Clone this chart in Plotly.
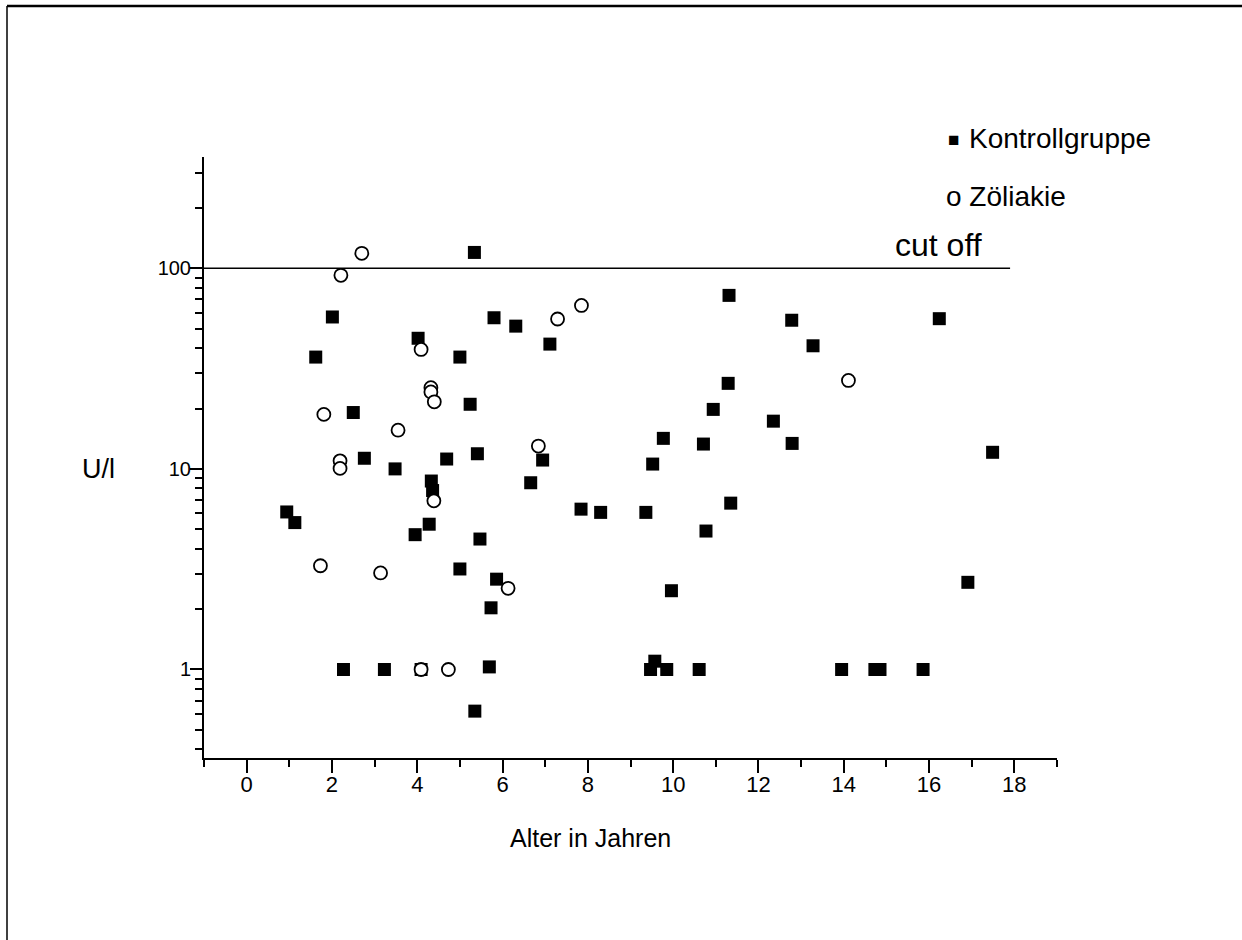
import plotly.graph_objects as go

# Kontrollgruppe (filled squares): age in years, value in U/l
kontroll_alter = [0.94, 1.13, 1.62, 2.01, 2.27, 2.50, 2.76, 3.23, 3.48, 3.95,
                  4.02, 4.09, 4.28, 4.33, 4.36, 4.69, 5.00, 5.00, 5.24, 5.34,
                  5.35, 5.41, 5.47, 5.69, 5.73, 5.80, 5.86, 6.31, 6.66, 6.94,
                  7.11, 7.84, 8.30, 9.36, 9.47, 9.52, 9.57, 9.77, 9.85, 9.96,
                  10.61, 10.71, 10.77, 10.94, 11.29, 11.31, 11.35, 12.35, 12.78, 12.79,
                  13.28, 13.95, 14.73, 14.85, 15.86, 16.24, 16.91, 17.49]
kontroll_wert = [6.1, 5.4, 36.1, 57.2, 1.0, 19.1, 11.3, 1.0, 10.0, 4.7,
                 44.8, 1.0, 5.3, 8.7, 7.8, 11.2, 36.1, 3.17, 21.0, 120.0,
                 0.62, 11.9, 4.47, 1.03, 2.03, 56.7, 2.82, 51.5, 8.53, 11.07,
                 41.9, 6.30, 6.07, 6.07, 1.0, 10.57, 1.1, 14.2, 1.0, 2.47,
                 1.0, 13.3, 4.9, 19.8, 26.7, 73.3, 6.75, 17.3, 55.1, 13.4,
                 41.1, 1.0, 1.0, 1.0, 1.0, 56.1, 2.72, 12.1]

# Zöliakie (open circles)
zoeliakie_alter = [1.73, 1.81, 2.19, 2.19, 2.21, 2.70, 3.14, 3.55, 4.09, 4.09,
                   4.32, 4.32, 4.39, 4.40, 4.73, 6.13, 6.84, 7.29, 7.85, 14.11]
zoeliakie_wert = [3.29, 18.7, 10.97, 10.06, 92.3, 118.8, 3.03, 15.6, 39.4, 1.0,
                  25.4, 24.2, 6.93, 21.6, 1.0, 2.54, 13.0, 55.9, 65.3, 27.6]

cut_off = 100
y_ticks = [1, 10, 100]
y_minor = [0.4, 0.5, 0.6, 0.7, 0.8, 0.9, 2, 3, 4, 5, 6, 7, 8, 9,
           20, 30, 40, 50, 60, 70, 80, 90, 200, 300]
x_ticks = list(range(0, 19, 2))
x_minor = list(range(-1, 20, 2))

FONT = "Liberation Sans, Arial, sans-serif"
W, H = 1242, 940
L, R, T, B = 204, 1057, 157, 758


def px(xp):
    return (xp - L) / (R - L)


def py(yp):
    return (B - yp) / (B - T)


fig = go.Figure()
fig.add_trace(go.Scatter(
    x=kontroll_alter, y=kontroll_wert, mode="markers", name="Kontrollgruppe",
    marker=dict(symbol="square", size=13, color="black", line=dict(width=0)),
))
fig.add_trace(go.Scatter(
    x=zoeliakie_alter, y=zoeliakie_wert, mode="markers", name="Zöliakie",
    marker=dict(symbol="circle", size=13, color="white",
                line=dict(width=1.8, color="black")),
))

# cut-off line
fig.add_shape(type="line", xref="x", yref="y", x0=-1, x1=17.9,
              y0=cut_off, y1=cut_off, line=dict(color="black", width=1.5))

# page frame (top and left edges)
fig.add_shape(type="line", xref="paper", yref="paper", x0=px(7), x1=px(1242),
              y0=py(6), y1=py(6), line=dict(color="black", width=2.5))
fig.add_shape(type="line", xref="paper", yref="paper", x0=px(7), x1=px(7),
              y0=py(6), y1=py(940), line=dict(color="black", width=1.5))

annotations = [
    dict(text="■", x=px(953), y=py(139), font=dict(size=19), xanchor="center"),
    dict(text="Kontrollgruppe", x=px(967), y=py(138), font=dict(size=28), xanchor="left"),
    dict(text="o Zöliakie", x=px(944), y=py(196), font=dict(size=28), xanchor="left"),
    dict(text="cut off", x=px(893), y=py(245), font=dict(size=32), xanchor="left"),
    dict(text="U/l", x=px(98), y=py(469), font=dict(size=27), xanchor="center"),
    dict(text="Alter in Jahren", x=px(590), y=py(838), font=dict(size=25), xanchor="center"),
]
for a in annotations:
    a.update(xref="paper", yref="paper", yanchor="middle", showarrow=False)
    a["font"].update(family=FONT, color="black")

fig.update_layout(
    width=W, height=H,
    margin=dict(l=L, r=W - R, t=T, b=H - B, pad=0),
    paper_bgcolor="white", plot_bgcolor="white",
    showlegend=False,
    font=dict(family=FONT, color="black"),
    annotations=annotations,
    xaxis=dict(
        range=[-1, 19], tickvals=x_ticks, ticktext=[str(v) for v in x_ticks],
        ticks="outside", ticklen=13, tickwidth=2, tickcolor="black",
        ticklabelstandoff=-7,
        showline=True, linewidth=2, linecolor="black",
        showgrid=False, zeroline=False,
        tickfont=dict(size=22, family=FONT, color="black"),
        minor=dict(tickvals=x_minor, ticks="outside", ticklen=7, tickwidth=2,
                   tickcolor="black", showgrid=False),
    ),
    yaxis=dict(
        type="log", range=[-0.4413, 2.555],
        tickvals=y_ticks, ticktext=[str(v) for v in y_ticks],
        ticks="outside", ticklen=12, tickwidth=2, tickcolor="black",
        ticklabelstandoff=-5,
        showline=True, linewidth=2, linecolor="black",
        showgrid=False, zeroline=False,
        tickfont=dict(size=20, family=FONT, color="black"),
        minor=dict(tickvals=y_minor, ticks="outside", ticklen=7, tickwidth=2,
                   tickcolor="black", showgrid=False),
    ),
)

fig.write_html("out.html")
